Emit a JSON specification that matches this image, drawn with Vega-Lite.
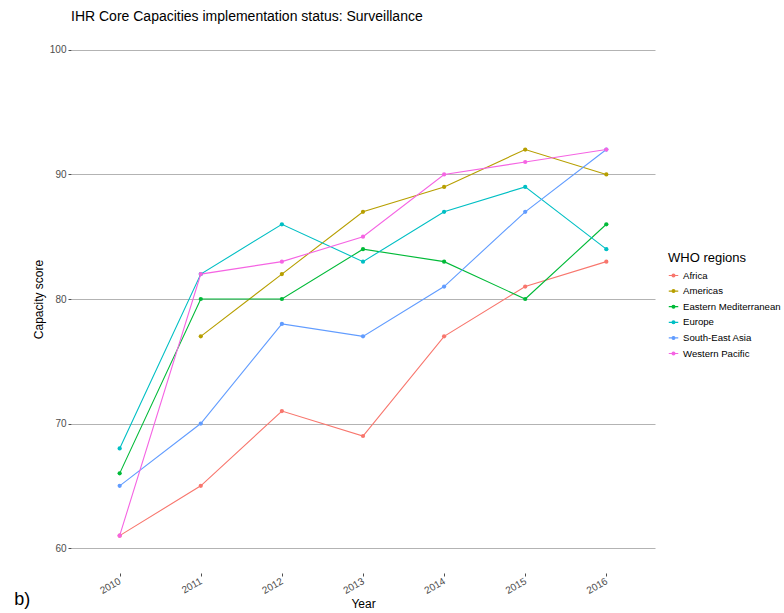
{
  "$schema": "https://vega.github.io/schema/vega-lite/v6.json",
  "autosize": "none",
  "width": 584,
  "height": 548,
  "padding": {"left": 71, "top": 25, "right": 129, "bottom": 40},
  "background": "white",
  "title": {"text": "IHR Core Capacities implementation status: Surveillance", "anchor": "start", "frame": "group", "fontSize": 14, "font": "Liberation Sans", "fontWeight": "normal", "color": "#000000", "offset": 1},
  "config": {
    "view": {"stroke": null},
    "font": "Liberation Sans"
  },
  "data": {"values": [
    {"region": "Africa", "year": 2010, "score": 61},
    {"region": "Africa", "year": 2011, "score": 65},
    {"region": "Africa", "year": 2012, "score": 71},
    {"region": "Africa", "year": 2013, "score": 69},
    {"region": "Africa", "year": 2014, "score": 77},
    {"region": "Africa", "year": 2015, "score": 81},
    {"region": "Africa", "year": 2016, "score": 83},
    {"region": "Americas", "year": 2011, "score": 77},
    {"region": "Americas", "year": 2012, "score": 82},
    {"region": "Americas", "year": 2013, "score": 87},
    {"region": "Americas", "year": 2014, "score": 89},
    {"region": "Americas", "year": 2015, "score": 92},
    {"region": "Americas", "year": 2016, "score": 90},
    {"region": "Eastern Mediterranean", "year": 2010, "score": 66},
    {"region": "Eastern Mediterranean", "year": 2011, "score": 80},
    {"region": "Eastern Mediterranean", "year": 2012, "score": 80},
    {"region": "Eastern Mediterranean", "year": 2013, "score": 84},
    {"region": "Eastern Mediterranean", "year": 2014, "score": 83},
    {"region": "Eastern Mediterranean", "year": 2015, "score": 80},
    {"region": "Eastern Mediterranean", "year": 2016, "score": 86},
    {"region": "Europe", "year": 2010, "score": 68},
    {"region": "Europe", "year": 2011, "score": 82},
    {"region": "Europe", "year": 2012, "score": 86},
    {"region": "Europe", "year": 2013, "score": 83},
    {"region": "Europe", "year": 2014, "score": 87},
    {"region": "Europe", "year": 2015, "score": 89},
    {"region": "Europe", "year": 2016, "score": 84},
    {"region": "South-East Asia", "year": 2010, "score": 65},
    {"region": "South-East Asia", "year": 2011, "score": 70},
    {"region": "South-East Asia", "year": 2012, "score": 78},
    {"region": "South-East Asia", "year": 2013, "score": 77},
    {"region": "South-East Asia", "year": 2014, "score": 81},
    {"region": "South-East Asia", "year": 2015, "score": 87},
    {"region": "South-East Asia", "year": 2016, "score": 92},
    {"region": "Western Pacific", "year": 2010, "score": 61},
    {"region": "Western Pacific", "year": 2011, "score": 82},
    {"region": "Western Pacific", "year": 2012, "score": 83},
    {"region": "Western Pacific", "year": 2013, "score": 85},
    {"region": "Western Pacific", "year": 2014, "score": 90},
    {"region": "Western Pacific", "year": 2015, "score": 91},
    {"region": "Western Pacific", "year": 2016, "score": 92}
  ]},
  "layer": [
    {"mark": {"type": "line", "strokeWidth": 1.1},
     "encoding": {
    "x": {"field": "year", "type": "quantitative",
      "scale": {"domain": [2009.4, 2016.6], "nice": false, "zero": false},
      "axis": {"values": [2010, 2011, 2012, 2013, 2014, 2015, 2016], "format": "d", "title": "Year",
        "grid": false,
        "domain": false, "tickColor": "#4d4d4d", "tickSize": 3, "labelAngle": -30, "labelAlign": "right", "labelBaseline": "middle",
        "labelColor": "#4d4d4d", "labelFontSize": 10, "labelPadding": 4,
        "titleFontSize": 12, "titleFontWeight": "normal", "titleColor": "#000000", "titlePadding": 3}},
    "y": {"field": "score", "type": "quantitative",
      "scale": {"domain": [58, 102], "nice": false, "zero": false},
      "axis": {"values": [60, 70, 80, 90, 100], "title": "Capacity score",
        "grid": true, "gridColor": "#b3b3b3", "gridWidth": 1,
        "domain": false, "tickColor": "#4d4d4d", "tickSize": 3,
        "labelColor": "#4d4d4d", "labelFontSize": 10, "labelPadding": 2,
        "titleFontSize": 12, "titleFontWeight": "normal", "titleColor": "#000000", "titlePadding": 4}},
    "color": {"field": "region", "type": "nominal",
      "scale": {"domain": ["Africa", "Americas", "Eastern Mediterranean", "Europe", "South-East Asia", "Western Pacific"],
        "range": ["#F8766D", "#B79F00", "#00BA38", "#00BFC4", "#619CFF", "#F564E3"]},
      "legend": {"title": "WHO regions", "orient": "none", "legendX": 597, "legendY": 227,
        "titleFontSize": 13, "titleFontWeight": "normal", "titleColor": "#000000", "titlePadding": 5,
        "labelFontSize": 9.6, "labelColor": "#000000", "labelOffset": 4,
        "symbolType": "M-1,0H1M-0.3,0A0.3,0.3,0,1,1,0.3,0A0.3,0.3,0,1,1,-0.3,0", "symbolSize": 90, "symbolStrokeWidth": 1.2,
        "rowPadding": 4.6}}
     }},
    {"mark": {"type": "point", "filled": true, "size": 18, "opacity": 1},
     "encoding": {
       "x": {"field": "year", "type": "quantitative"},
       "y": {"field": "score", "type": "quantitative"},
       "color": {"field": "region", "type": "nominal"}
     }},
    {"data": {"values": [{"label": "b)"}]},
     "mark": {"type": "text", "fontSize": 18, "font": "Liberation Sans", "fill": "#000000", "align": "left", "baseline": "middle", "clip": false},
     "encoding": {"text": {"field": "label", "type": "nominal"}, "x": {"datum": 2008.7, "type": "quantitative"}, "y": {"datum": 55.8, "type": "quantitative"}}}
  ]
}
